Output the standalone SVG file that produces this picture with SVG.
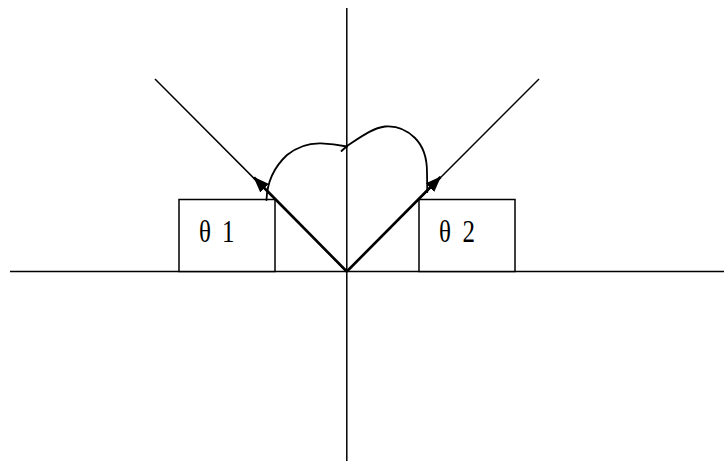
<svg xmlns="http://www.w3.org/2000/svg" width="724" height="461" viewBox="0 0 724 461">
  <style>
    .thin { stroke: #000; stroke-width: 1.5; fill: none; }
    .thick { stroke: #000; stroke-width: 2.6; fill: none; }
    .curve { stroke: #000; stroke-width: 1.8; fill: none; stroke-linecap: round; stroke-linejoin: round; }
    .box { stroke: #000; stroke-width: 1.5; fill: #fff; }
    .lbl { font-family: "Liberation Serif", "Times New Roman", serif; font-size: 32px; fill: #000; }
  </style>
  <defs>
    <marker id="arrow" markerUnits="userSpaceOnUse" viewBox="0 0 16 12" markerWidth="16" markerHeight="12" refX="15" refY="6" orient="auto">
      <path d="M0,0 L16,6 L0,12 Z" fill="#000"/>
    </marker>
  </defs>
  <rect width="724" height="461" fill="#fff"/>
  <g id="axes">
    <line class="thin" x1="10" y1="271.5" x2="724" y2="271.5"/>
    <line class="thin" x1="346.8" y1="8" x2="346.8" y2="461"/>
  </g>
  <g id="box1">
    <rect class="box" x="179" y="199.5" width="96" height="72"/>
    <text class="lbl" transform="translate(199,242) scale(0.78,1)"><tspan x="0">θ</tspan><tspan x="29.5">1</tspan></text>
  </g>
  <g id="box2">
    <rect class="box" x="419" y="199.5" width="96" height="72"/>
    <text class="lbl" transform="translate(439,242) scale(0.78,1)"><tspan x="0">θ</tspan><tspan x="30">2</tspan></text>
  </g>
  <g id="connectors">
    <line class="thin" x1="155" y1="79" x2="346.8" y2="271.5"/>
    <line class="thin" x1="539" y1="79" x2="346.8" y2="271.5"/>
    <line class="thick" x1="346.8" y1="271.5" x2="254" y2="177.5" marker-end="url(#arrow)"/>
    <line class="thick" x1="346.8" y1="271.5" x2="440.5" y2="177" marker-end="url(#arrow)"/>
    <path class="curve" d="M266.5,200 C267,184 273,168 287,155 C298,146 310,143 321,143.3 C332,143.5 340,145 347,146.5"/>
    <path class="curve" d="M341.5,151 L347,146 C358,139 372,128 385,126.5 C396,125.5 407,130 415,138 C423,146 427,156 427,172 L427.3,192"/>
  </g>
</svg>
